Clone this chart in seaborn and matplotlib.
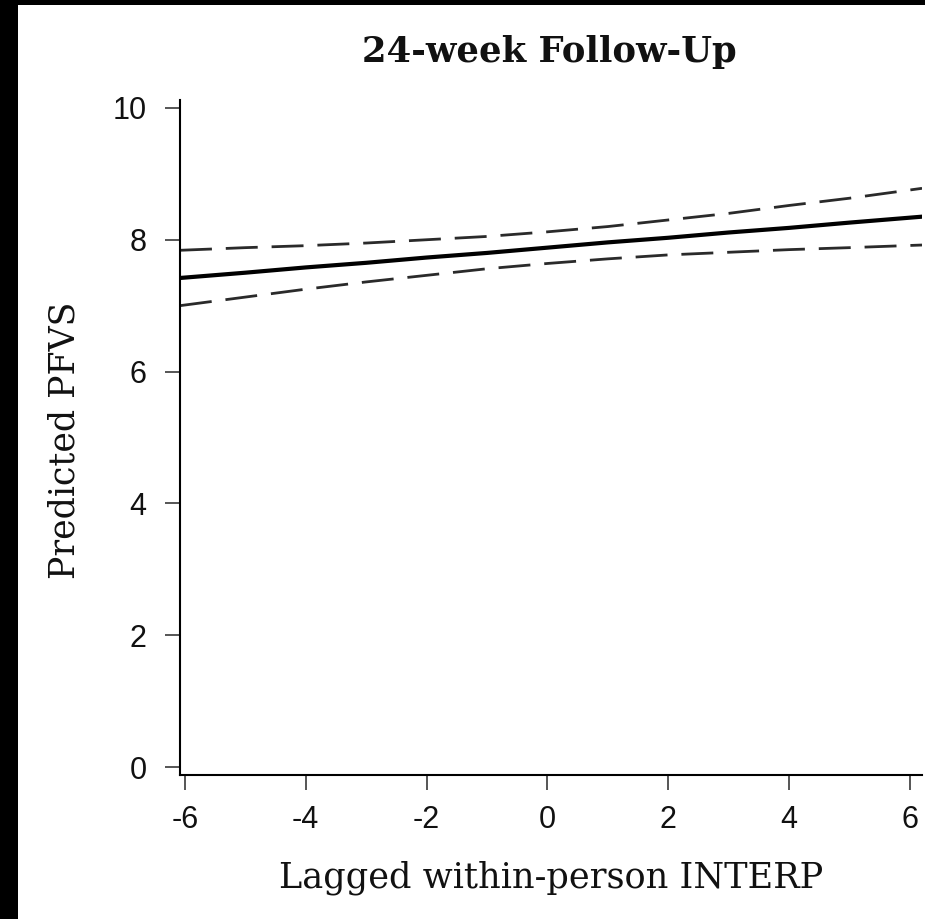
import matplotlib
matplotlib.use("Agg")
import matplotlib.pyplot as plt
from matplotlib.patches import Rectangle
import numpy as np
import pandas as pd
import seaborn as sns

# Lagged within-person INTERP values at which the model was evaluated
interp = [-6.08, -5, -4, -3, -2, -1, 0, 1, 2, 3, 4, 5, 6.2]
# Predicted PFVS and its 95% confidence band
predicted = [7.42, 7.50, 7.58, 7.65, 7.73, 7.80, 7.88, 7.96, 8.03, 8.11, 8.18, 8.26, 8.35]
upper_ci = [7.84, 7.88, 7.91, 7.95, 8.00, 8.05, 8.12, 8.20, 8.30, 8.40, 8.52, 8.63, 8.78]
lower_ci = [7.00, 7.13, 7.25, 7.36, 7.46, 7.56, 7.64, 7.71, 7.77, 7.81, 7.85, 7.88, 7.92]

x_ticks = [-6, -4, -2, 0, 2, 4, 6]
y_ticks = [0, 2, 4, 6, 8, 10]

df = pd.DataFrame({
    "interp": interp * 3,
    "value": predicted + upper_ci + lower_ci,
    "series": ["Predicted"] * len(interp) + ["Upper"] * len(interp) + ["Lower"] * len(interp),
})

sns.set_style("ticks")
plt.rcParams["font.family"] = ["Liberation Sans", "DejaVu Sans"]

fig = plt.figure(figsize=(9.25, 9.19), dpi=100)
fig.patch.set_facecolor("white")
ax = fig.add_axes([180 / 925, (919 - 775) / 919, (922 - 180) / 925, (775 - 100) / 919])

sns.lineplot(data=df[df.series == "Predicted"], x="interp", y="value",
             color="black", linewidth=3.0, ax=ax, legend=False)
for name in ["Upper", "Lower"]:
    sns.lineplot(data=df[df.series == name], x="interp", y="value",
                 color="#2a2a2a", linewidth=2.0, dashes=False, ax=ax, legend=False)
for line in ax.lines[1:]:
    line.set_dashes((11.5, 5.0))

ax.set_xlim(-6.08, 6.2)
ax.set_ylim(-0.12, 10.12)
ax.set_xticks(x_ticks)
ax.set_yticks(y_ticks)
ax.set_xticklabels([str(v) for v in x_ticks])
ax.set_yticklabels([str(v) for v in y_ticks])

for side in ["top", "right"]:
    ax.spines[side].set_visible(False)
for side in ["left", "bottom"]:
    ax.spines[side].set_linewidth(1.5)
    ax.spines[side].set_color("black")

ax.tick_params(axis="both", direction="out", length=11, width=1.4,
               color="#555555", labelsize=22, labelcolor="#111111")
ax.tick_params(axis="y", pad=13)
ax.tick_params(axis="x", pad=10.5)

serif = ["DejaVu Serif"]
ax.set_xlabel("Lagged within-person INTERP", fontsize=25.3, family=serif,
              color="#111111")
ax.xaxis.label.set_va("center")
ax.xaxis.set_label_coords(0.5, -0.1526)
ax.set_ylabel("Predicted PFVS", fontsize=25, family=serif, color="#111111")
ax.yaxis.label.set_va("center")
ax.yaxis.set_label_coords(-0.155, 0.496)
fig.text(549 / 925, 1 - 52 / 919, "24-week Follow-Up", fontsize=25.5,
         family=serif, fontweight="bold", ha="center", va="center", color="#111111")

# Dark frame along the left and top edges
fig.patches.append(Rectangle((0, 0), 18 / 925, 1, transform=fig.transFigure,
                             facecolor="black", edgecolor="none", zorder=10))
fig.patches.append(Rectangle((0, 1 - 5 / 919), 1, 5 / 919, transform=fig.transFigure,
                             facecolor="black", edgecolor="none", zorder=10))

fig.savefig("out.png", dpi=100, facecolor="white")
